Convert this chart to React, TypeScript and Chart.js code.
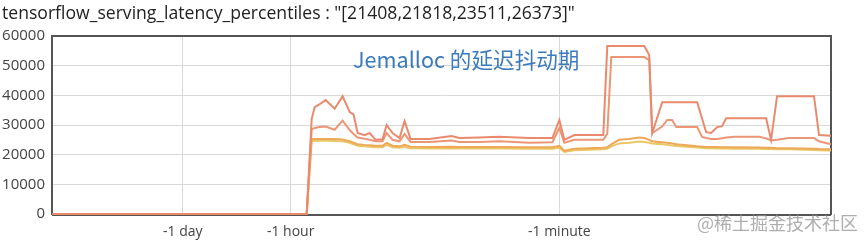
import React, { useEffect, useRef } from "react";
import { Chart, registerables } from "chart.js";

Chart.register(...registerables);

// timeline positions (arbitrary units along the non-linear time axis)
const positions = [0, 255, 260, 263, 268, 274, 283, 291, 298, 302, 306, 313, 318, 324, 331, 335, 341, 348, 353, 359, 378, 400, 408, 428, 448, 478, 501, 508, 513, 523, 552, 556, 560, 568, 578, 588, 593, 598, 601, 611, 616, 621, 625, 646, 651, 655, 660, 666, 671, 675, 683, 708, 715, 720, 726, 738, 763, 768, 780];

const p99 = [0, 0, 32000, 36000, 37000, 38400, 35500, 39700, 34400, 33500, 27300, 26600, 27300, 25000, 25200, 30000, 27300, 25600, 31300, 25300, 25300, 26300, 25600, 25800, 26000, 25600, 25600, 31700, 25000, 26600, 26600, 56600, 56600, 56600, 56600, 56600, 56600, 53600, 27300, 37700, 37700, 37700, 37700, 37700, 32000, 27600, 27300, 29300, 29600, 32300, 32300, 32300, 32300, 25000, 39700, 39700, 39700, 26600, 26373];
const p95 = [0, 0, 28500, 29000, 29300, 29500, 28400, 31500, 28300, 27000, 25800, 25400, 25000, 24500, 24500, 27300, 25000, 24500, 27000, 24300, 24300, 24800, 24300, 24300, 24500, 24000, 24200, 29000, 24000, 25000, 25000, 27000, 52900, 52900, 52900, 52900, 52900, 51900, 27300, 29500, 31700, 31700, 29300, 29300, 26000, 25600, 25300, 25300, 25500, 25800, 26000, 26000, 25500, 24800, 25000, 25600, 25600, 24500, 23511];
const p90 = [0, 0, 25300, 25300, 25300, 25300, 25300, 25100, 24500, 24000, 23500, 23300, 23200, 23000, 23000, 24000, 23000, 22800, 23300, 22700, 22600, 22700, 22600, 22600, 22600, 22500, 22500, 23000, 21300, 22000, 22300, 22500, 23500, 25000, 25300, 25800, 25600, 25000, 24500, 24200, 24000, 23800, 23500, 22800, 22700, 22600, 22600, 22600, 22500, 22500, 22500, 22400, 22300, 22300, 22200, 22200, 22000, 21900, 21818];
const p50 = [0, 0, 24600, 24600, 24700, 24700, 24600, 24500, 24000, 23500, 23000, 22800, 22700, 22500, 22500, 23300, 22500, 22300, 22600, 22200, 22100, 22200, 22100, 22100, 22100, 22000, 22000, 22300, 20900, 21500, 21800, 22000, 22800, 23800, 24000, 24400, 24300, 24000, 23800, 23500, 23300, 23100, 22900, 22400, 22300, 22200, 22200, 22100, 22100, 22100, 22000, 22000, 21900, 21900, 21800, 21800, 21600, 21500, 21408];

const tickPositions = [131, 239, 508];
const tickLabels = ["-1 day", "-1 hour", "-1 minute"];

const titleText = 'tensorflow_serving_latency_percentiles : "[21408,21818,23511,26373]"';
const annotationText = "Jemalloc 的延迟抖动期";
const watermarkText = "@稀土掘金技术社区";

const seriesList = [
  { name: "p99", values: p99, color: "#e98a6c" },
  { name: "p95", values: p95, color: "#ec9676" },
  { name: "p90", values: p90, color: "#eda858" },
  { name: "p50", values: p50, color: "#e9c765" },
];

export default function App() {
  const ref = useRef<HTMLCanvasElement | null>(null);

  useEffect(() => {
    if (!ref.current) return;

    const framePlugin = {
      id: "frame",
      beforeDatasetsDraw(chart: any) {
        const { ctx, chartArea } = chart;
        ctx.save();
        ctx.strokeStyle = "#555";
        ctx.lineWidth = 2;
        ctx.beginPath();
        ctx.moveTo(chartArea.left, chartArea.bottom + 1);
        ctx.lineTo(chartArea.left, chartArea.top);
        ctx.lineTo(chartArea.right, chartArea.top);
        ctx.lineTo(chartArea.right, chartArea.bottom + 1);
        ctx.moveTo(chartArea.left, chartArea.bottom + 1);
        ctx.lineTo(chartArea.right, chartArea.bottom + 1);
        ctx.stroke();
        ctx.restore();
      },
      afterDraw(chart: any) {
        const { ctx } = chart;
        ctx.save();
        ctx.textBaseline = "alphabetic";
        ctx.textAlign = "left";
        ctx.fillStyle = "#222";
        ctx.font = '17.6px "Open Sans"';
        ctx.fillText(titleText, 2, 19);
        ctx.fillStyle = "#3b7bbb";
        ctx.font = '21.6px "Noto Sans CJK SC"';
        ctx.fillText(annotationText, 353, 68);
        ctx.fillStyle = "rgba(140,140,140,0.7)";
        ctx.font = '18px "Noto Sans CJK SC"';
        ctx.fillText(watermarkText, 697, 230);
        ctx.restore();
      },
    };

    const chart = new Chart(ref.current, {
      type: "line",
      data: {
        datasets: seriesList.map((s) => ({
          label: s.name,
          data: positions.map((x, i) => ({ x, y: s.values[i] })),
          borderColor: s.color,
          backgroundColor: s.color,
          borderWidth: 2,
          pointRadius: 0,
          tension: 0,
          fill: false,
          clip: 4,
        })),
      },
      options: {
        animation: false,
        responsive: true,
        maintainAspectRatio: false,
        layout: { padding: { top: 36, right: 35, left: 0, bottom: 0 } },
        plugins: { legend: { display: false }, tooltip: { enabled: false }, title: { display: false } },
        scales: {
          x: {
            type: "linear",
            min: 0,
            max: 780,
            afterBuildTicks: (scale: any) => {
              scale.ticks = tickPositions.map((v) => ({ value: v }));
            },
            afterFit: (scale: any) => {
              scale.height = 29;
            },
            ticks: {
              autoSkip: false,
              maxRotation: 0,
              padding: 10,
              color: "#444",
              font: { family: "Open Sans", size: 14 },
              callback: (v: any) => {
                const i = tickPositions.indexOf(Number(v));
                return i >= 0 ? tickLabels[i] : "";
              },
            },
            grid: { color: "#d8d8d8", lineWidth: 1, drawTicks: false },
            border: { display: false },
          },
          y: {
            min: 0,
            max: 60000,
            afterFit: (scale: any) => {
              scale.width = 52;
            },
            ticks: {
              stepSize: 10000,
              padding: 7,
              color: "#444",
              font: { family: "Open Sans", size: 15 },
              callback: (v: any) => String(v),
            },
            grid: { color: "#d8d8d8", lineWidth: 1, drawTicks: false },
            border: { display: false },
          },
        },
      },
      plugins: [framePlugin],
    });

    return () => chart.destroy();
  }, []);

  return (
    <div style={{ position: "fixed", left: 0, top: 0, width: 866, height: 243, background: "#fff" }}>
      <canvas ref={ref} />
    </div>
  );
}
